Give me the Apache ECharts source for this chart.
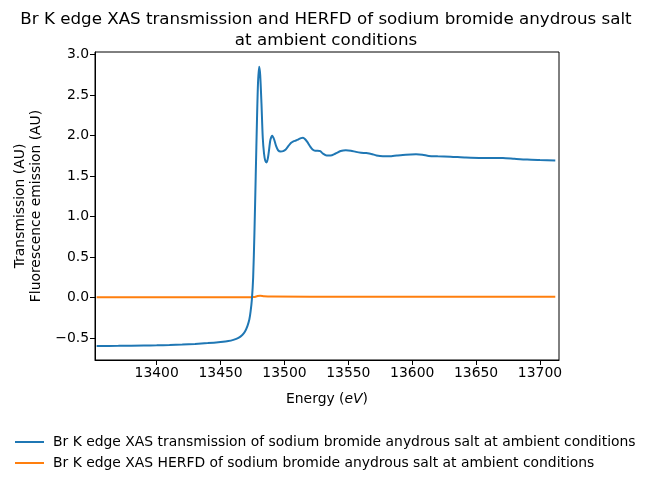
<!DOCTYPE html>
<html>
<head>
<meta charset="utf-8">
<script src="https://cdn.jsdelivr.net/npm/echarts@6/dist/echarts.min.js"></script>
<style>
html,body{margin:0;padding:0;background:#fff;}
#chart{width:652px;height:485px;}
</style>
</head>
<body>
<div id="chart"></div>
<script>
// Transmission series (energy in eV, absorbance AU)
const transEnergy = [13353,13370,13390,13400,13410,13420,13430,13440,13450,13456,13460,13464,13467,13469,13471,13472.5,13473.5,13474.5,13475.5,13476.5,13477.5,13478.5,13479.3,13480.2,13481,13482,13483,13484,13485,13486,13487,13488,13489,13490.5,13492,13493.5,13495,13497,13499,13501,13503,13505,13507,13509,13511,13513,13514.5,13516,13518,13520,13522,13524,13526,13528,13530,13533,13536,13540,13544,13548,13552,13556,13560,13564,13568,13572,13577,13582,13588,13595,13603,13608,13613,13620,13630,13642,13655,13671,13680,13690,13700,13712];
const transValues = [-0.596,-0.594,-0.590,-0.588,-0.584,-0.578,-0.570,-0.560,-0.546,-0.535,-0.520,-0.495,-0.460,-0.420,-0.350,-0.270,-0.170,-0.020,0.25,0.80,1.50,2.20,2.65,2.85,2.75,2.40,1.98,1.78,1.69,1.67,1.72,1.83,1.95,2.00,1.95,1.87,1.82,1.805,1.81,1.83,1.87,1.91,1.93,1.94,1.955,1.97,1.975,1.96,1.92,1.87,1.83,1.815,1.815,1.81,1.78,1.755,1.755,1.78,1.81,1.82,1.815,1.80,1.79,1.785,1.775,1.755,1.745,1.745,1.755,1.765,1.77,1.765,1.75,1.745,1.74,1.73,1.725,1.725,1.715,1.705,1.70,1.695];
// HERFD series
const herfdEnergy = [13353,13400,13450,13470,13476,13479,13481,13484,13490,13550,13650,13712];
const herfdValues = [0.005,0.005,0.005,0.005,0.008,0.02,0.025,0.018,0.014,0.013,0.012,0.012];

const xTicks = [13400,13450,13500,13550,13600,13650,13700];
const yTicks = [-0.5,0,0.5,1.0,1.5,2.0,2.5,3.0];

const seriesNames = [
  'Br K edge XAS transmission of sodium bromide anydrous salt at ambient conditions',
  'Br K edge XAS HERFD of sodium bromide anydrous salt at ambient conditions'
];
const titleText = 'Br K edge XAS transmission and HERFD of sodium bromide anydrous salt\nat ambient conditions';

const FONT = 'DejaVu Sans';
const chart = echarts.init(document.getElementById('chart'), null, {renderer:'canvas'});

function pairs(xs, ys){ return xs.map((x,i)=>[x, ys[i]]); }

chart.setOption({
  animation:false,
  backgroundColor:'#fff',
  textStyle:{fontFamily:FONT},
  title:{
    text:titleText,
    left:'center', top:4,
    textStyle:{fontFamily:FONT,fontSize:16.7,fontWeight:'normal',color:'#000',lineHeight:21}
  },
  grid:{left:95,right:93,top:52,bottom:125,show:true,borderColor:'#000',borderWidth:1,backgroundColor:'transparent'},
  legend:{
    orient:'vertical', left:10, top:430, itemWidth:29, itemHeight:2, itemGap:7, icon:'rect',
    textStyle:{fontFamily:FONT,fontSize:13.9,color:'#000',padding:[0,0,0,4]},
    data:seriesNames
  },
  xAxis:{
    type:'value', min:13351.7, max:13714.9,
    splitLine:{show:false},
    axisLine:{show:true,onZero:false,lineStyle:{color:'#000',width:1}},
    axisTick:{show:true,length:5,inside:false,lineStyle:{color:'#000'},customValues:xTicks},
    axisLabel:{color:'#000',fontSize:13.9,fontFamily:FONT,margin:6,customValues:xTicks,formatter:v=>String(v)},
    name:'Energy ({i|eV})', nameLocation:'middle', nameGap:32,
    nameTextStyle:{fontFamily:FONT,fontSize:13.9,color:'#000',rich:{i:{fontStyle:'italic',fontFamily:FONT,fontSize:13.9,color:'#000'}}}
  },
  yAxis:{
    type:'value', min:-0.769, max:3.033,
    splitLine:{show:false},
    axisLine:{show:true,onZero:false,lineStyle:{color:'#000',width:1}},
    axisTick:{show:true,length:5,inside:false,lineStyle:{color:'#000'},customValues:yTicks},
    axisLabel:{color:'#000',fontSize:13.9,fontFamily:FONT,margin:6,customValues:yTicks,
      formatter:v=>(v<0?'\u2212':'')+Math.abs(v).toFixed(1)},
    name:'Transmission (AU)\nFluorescence emission (AU)', nameLocation:'middle', nameRotate:90, nameGap:50,
    nameTextStyle:{fontFamily:FONT,fontSize:13.9,color:'#000',lineHeight:16}
  },
  series:[
    {name:seriesNames[0],type:'line',data:pairs(transEnergy,transValues),showSymbol:false,symbol:'none',smooth:0.25,
     lineStyle:{color:'#1f77b4',width:2},itemStyle:{color:'#1f77b4'},z:3},
    {name:seriesNames[1],type:'line',data:pairs(herfdEnergy,herfdValues),showSymbol:false,symbol:'none',smooth:0.25,
     lineStyle:{color:'#ff7f0e',width:2},itemStyle:{color:'#ff7f0e'},z:2}
  ]
});
</script>
</body>
</html>
